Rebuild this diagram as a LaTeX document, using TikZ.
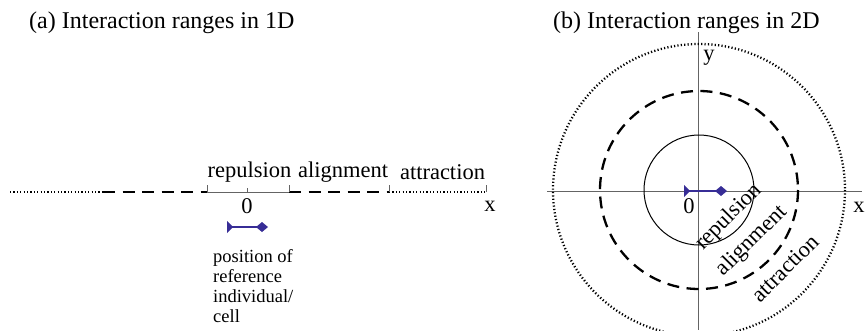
\documentclass[tikz,border=0pt]{standalone}
\usepackage{fontspec}
\setmainfont{Liberation Serif}
\usetikzlibrary{arrows.meta}
\definecolor{refblue}{RGB}{55,45,150}
\definecolor{axisgray}{RGB}{100,100,100}
\tikzset{
  titlefont/.style={font=\fontsize{24}{28}\selectfont, inner sep=0pt},
  labfont/.style={font=\fontsize{22.5}{26}\selectfont, inner sep=0pt},
  smallfont/.style={font=\fontsize{18.5}{20}\selectfont, inner sep=0pt},
  axisline/.style={draw=axisgray, line width=1pt},
  dotline/.style={draw=black, line width=2.3pt, dash pattern=on 1.2pt off 2.2pt},
  dashline/.style={draw=black, line width=2.3pt, dash pattern=on 12pt off 7.5pt},
  tickline/.style={draw=axisgray, line width=1pt},
  refvec/.style={draw=refblue, line width=2.2pt,
    {Triangle[reversed,length=6pt,width=12pt,fill=refblue]}-{Diamond[length=12pt,width=10pt,fill=refblue]}},
}
\begin{document}
\begin{tikzpicture}[x=1pt,y=-1pt]
\useasboundingbox (0,0) rectangle (865,330);
% titles
\node[titlefont, anchor=west] (ta) at (29,23) {(a) Interaction ranges in 1D};
\node[titlefont, anchor=west] (tb) at (553,23) {(b) Interaction ranges in 2D};
% ---- 1D panel
\coordinate (a0) at (10,192);
\coordinate (a1) at (103,192);
\coordinate (a2) at (207,192);
\coordinate (am) at (247,192);
\coordinate (a3) at (289,192);
\coordinate (a4) at (389,192);
\coordinate (a5) at (486,192);
\draw[dotline] (a0) -- (a1);
\draw[dashline] (a1) -- (a2);
\draw[axisline] (a2) -- (a3);
\draw[dashline] (a3) -- (a4);
\draw[dotline] (a4) -- (a5);
\foreach \p in {a2,a3,a4,a5} \draw[tickline] (\p) -- ++(0,-7);
\draw[tickline] (am) -- ++(0,-4);
\node[labfont] (lrep) at (249.5,172) {repulsion};
\node[labfont] (lali) at (343,172) {alignment};
\node[labfont] (latt) at (442.5,172) {attraction};
\node[labfont] (lzero) at (247,206) {0};
\node[labfont] (lx) at (490,206) {x};
\coordinate (b1) at (227,227);
\coordinate (b2) at (268,227);
\draw[refvec] (b1) -- (b2);
\node[smallfont, anchor=north west, align=left] (pos) at (213,249)
  {position of\\reference\\individual/\\cell};
% ---- 2D panel
\coordinate (c) at (699,190);
\coordinate (hx0) at (547,191);
\coordinate (hx1) at (862,191);
\coordinate (vy0) at (698,32);
\coordinate (vy1) at (698,330);
\draw[axisline] (hx0) -- (hx1);
\draw[axisline] (vy0) -- (vy1);
\draw[black, line width=1pt] (c) circle[radius=55];
\draw[dashline] (c) circle[radius=99];
\draw[dotline] (c) circle[radius=146];
\coordinate (r1) at (684,191);
\coordinate (r2) at (727,191);
\draw[refvec] (r1) -- (r2);
\node[labfont] (rzero) at (689,206) {0};
\node[labfont] (rx) at (859,207) {x};
\node[labfont] (ry) at (709,58) {y};
\node[labfont, rotate=45] (rrep) at (729,217) {repulsion};
\node[labfont, rotate=45] (rali) at (752,241) {alignment};
\node[labfont, rotate=45] (ratt) at (785,268) {attraction};
\end{tikzpicture}
\end{document}
